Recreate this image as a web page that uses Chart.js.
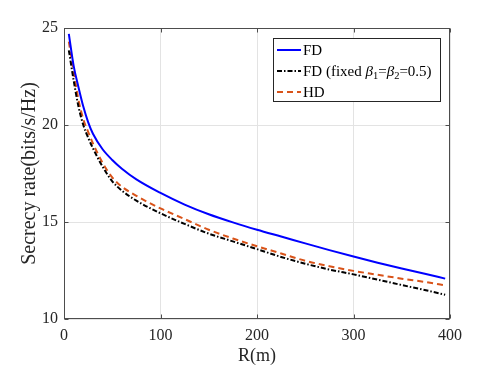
<!DOCTYPE html>
<html>
<head>
<meta charset="utf-8">
<script src="https://cdn.jsdelivr.net/npm/chart.js@4.4.1/dist/chart.umd.min.js"></script>
<style>
  html, body { margin: 0; padding: 0; background: #ffffff; }
  #rateChart { display: block; }
</style>
</head>
<body>
<canvas id="rateChart" width="498" height="367"></canvas>
<script>
// distance R (m)
const rValues = [5, 10, 15, 20, 25, 30, 40, 50, 60, 75, 100, 125, 150, 175, 200, 225, 250, 275, 300, 325, 350, 375, 395];

// secrecy rate (bits/s/Hz)
const fdRate = [24.7, 23.05, 21.95, 20.95, 20.15, 19.55, 18.75, 18.2, 17.75, 17.2, 16.5, 15.9, 15.4, 14.98, 14.6, 14.25, 13.9, 13.55, 13.22, 12.9, 12.6, 12.32, 12.08];
const fdFixedRate = [23.85, 22.3, 20.95, 20.0, 19.35, 18.8, 17.85, 17.1, 16.62, 16.1, 15.45, 14.9, 14.4, 14.0, 13.6, 13.2, 12.85, 12.55, 12.3, 12.03, 11.75, 11.48, 11.25];
const hdRate = [24.3, 22.75, 21.3, 20.3, 19.65, 19.05, 18.05, 17.3, 16.82, 16.35, 15.7, 15.15, 14.6, 14.15, 13.75, 13.38, 13.0, 12.72, 12.48, 12.28, 12.08, 11.9, 11.73];

const xTicks = [0, 100, 200, 300, 400];
const yTicks = [10, 15, 20, 25];

const serif = "'Liberation Serif', 'Times New Roman', serif";
const axisColor = "#262626";

function toPoints(ys) {
    return rValues.map((r, i) => ({ x: r, y: ys[i] }));
}

// MATLAB-like box, inward ticks and legend
const matlabFrame = {
    id: "matlabFrame",
    afterDatasetsDraw(chart) {
        const ctx = chart.ctx;
        const a = chart.chartArea;
        const xs = chart.scales.x, ys = chart.scales.y;
        const L = Math.round(a.left) + 0.5, R = Math.round(a.right) - 0.5;
        const T = Math.round(a.top) + 0.5, B = Math.round(a.bottom) - 0.5;
        ctx.save();
        ctx.strokeStyle = "#4d4d4d";
        ctx.lineWidth = 1;
        ctx.setLineDash([]);
        ctx.strokeRect(L, T, R - L, B - T);

        // inward ticks
        ctx.beginPath();
        xTicks.forEach(v => {
            const px = Math.round(xs.getPixelForValue(v)) + 0.5;
            ctx.moveTo(px, B); ctx.lineTo(px, B - 4);
            ctx.moveTo(px, T); ctx.lineTo(px, T + 4);
        });
        yTicks.forEach(v => {
            const py = Math.round(ys.getPixelForValue(v)) + 0.5;
            ctx.moveTo(L, py); ctx.lineTo(L + 4, py);
            ctx.moveTo(R, py); ctx.lineTo(R - 4, py);
        });
        ctx.stroke();

        // legend
        const box = { x: 273.5, y: 38.5, w: 167, h: 63 };
        ctx.fillStyle = "#ffffff";
        ctx.fillRect(box.x, box.y, box.w, box.h);
        ctx.strokeStyle = "#262626";
        ctx.strokeRect(box.x, box.y, box.w, box.h);

        const rows = [50, 71, 92];
        chart.data.datasets.forEach((ds, i) => {
            ctx.strokeStyle = ds.borderColor;
            ctx.lineWidth = ds.borderWidth;
            ctx.setLineDash(ds.borderDash || []);
            ctx.beginPath();
            ctx.moveTo(277, rows[i]);
            ctx.lineTo(301, rows[i]);
            ctx.stroke();
        });
        ctx.setLineDash([]);

        ctx.fillStyle = "#000000";
        ctx.textBaseline = "middle";
        ctx.textAlign = "left";
        const main = "15px " + serif;
        const ital = "italic 15px " + serif;
        const sub = "10.5px " + serif;
        ctx.font = main;
        ctx.fillText("FD", 303, rows[0] + 1);
        ctx.fillText("HD", 303, rows[2] + 1);

        // FD (fixed β1=β2=0.5)
        let x = 303;
        const y = rows[1] + 1;
        const parts = [
            ["FD (fixed ", main, 0],
            ["\u03b2", ital, 0],
            ["1", sub, 4],
            ["=", main, 0],
            ["\u03b2", ital, 0],
            ["2", sub, 4],
            ["=0.5)", main, 0]
        ];
        parts.forEach(([txt, f, dy]) => {
            ctx.font = f;
            ctx.fillText(txt, x, y + dy);
            x += ctx.measureText(txt).width;
        });
        ctx.restore();
    }
};

new Chart(document.getElementById("rateChart"), {
    type: "line",
    data: {
        datasets: [
            {
                label: "FD",
                data: toPoints(fdRate),
                borderColor: "#0000ff",
                borderWidth: 2,
                pointRadius: 0,
                cubicInterpolationMode: "monotone"
            },
            {
                label: "FD (fixed \u03b21=\u03b22=0.5)",
                data: toPoints(fdFixedRate),
                borderColor: "#000000",
                borderWidth: 2,
                borderDash: [5, 2, 1.5, 2],
                pointRadius: 0,
                cubicInterpolationMode: "monotone"
            },
            {
                label: "HD",
                data: toPoints(hdRate),
                borderColor: "#d95319",
                borderWidth: 2,
                borderDash: [6, 4],
                pointRadius: 0,
                cubicInterpolationMode: "monotone"
            }
        ]
    },
    options: {
        responsive: false,
        animation: false,
        devicePixelRatio: 1,
        layout: { padding: { left: 0, right: 48, top: 28, bottom: 0 } },
        plugins: {
            legend: { display: false },
            tooltip: { enabled: false }
        },
        scales: {
            x: {
                type: "linear",
                min: 0,
                max: 400,
                afterBuildTicks: s => { s.ticks = xTicks.map(v => ({ value: v })); },
                afterFit: s => { s.height = 48; },
                ticks: { font: { family: serif, size: 16 }, color: axisColor, padding: 7, maxRotation: 0 },
                grid: { color: "#e3e3e3", drawTicks: false },
                border: { display: false },
                title: { display: true, text: "R(m)", font: { family: serif, size: 18 }, color: axisColor, padding: { top: 0, bottom: 0 } }
            },
            y: {
                min: 10,
                max: 25,
                afterBuildTicks: s => { s.ticks = yTicks.map(v => ({ value: v })); },
                afterFit: s => { s.width = 64; },
                ticks: { font: { family: serif, size: 16 }, color: axisColor, padding: 6 },
                grid: { color: "#e3e3e3", drawTicks: false },
                border: { display: false },
                title: { display: true, text: "Secrecy rate(bits/s/Hz)", font: { family: serif, size: 20 }, color: axisColor, padding: { top: 18, bottom: 0 } }
            }
        }
    },
    plugins: [matlabFrame]
});
</script>
</body>
</html>
